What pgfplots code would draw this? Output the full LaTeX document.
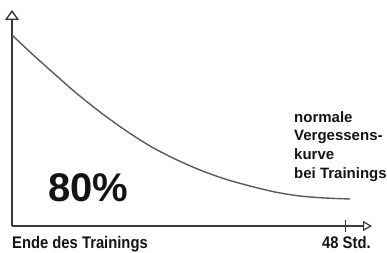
\documentclass[border=0pt]{standalone}
\usepackage{pgfplots}
\pgfplotsset{compat=1.18}
\usetikzlibrary{arrows.meta}
\usepackage{fontspec}
\setmainfont{Liberation Sans}
\newfontfamily\condfont{Liberation Sans}[FakeStretch=0.88]
\definecolor{axc}{HTML}{3A3A3A}
\definecolor{curvec}{HTML}{5A5A5A}
\begin{document}
\begin{tikzpicture}
\begin{axis}[
  x=1pt, y=1pt,
  xmin=0, xmax=360, ymin=0, ymax=216,
  axis lines=left,
  xtick=\empty, ytick=\empty,
  x axis line style={line width=1.2pt, color=axc, -{Triangle[open, length=9pt, width=10pt, line width=1.2pt]}},
  y axis line style={line width=1.2pt, color=axc, -{Triangle[open, length=10pt, width=14pt, line width=1.4pt]}},
  clip=false,
]
\addplot[smooth, line width=1.4pt, color=curvec] coordinates {
(0,191) (18,174) (38,156) (63,134) (88,114) (113,96) (138,80) (163,67)
(188,56) (213,47) (238,40) (263,34) (288,30) (313,28) (338,27)
};
\draw[line width=1pt, color=axc] (axis cs:333,-6) -- (axis cs:333,6);
\node[anchor=base west, inner sep=0pt, font=\fontsize{40}{44}\selectfont\bfseries, color=black!92] at (axis cs:36,25) {80\%};
\node[anchor=base west, inner sep=0pt, font=\condfont\fontsize{16.8}{19}\selectfont\bfseries, color=black!92] at (axis cs:0,-22.5) {Ende des Trainings};
\node[anchor=base west, inner sep=0pt, font=\condfont\fontsize{16.8}{19}\selectfont\bfseries, color=black!92] at (axis cs:310,-22.5) {48 Std.};
\node[anchor=base west, inner sep=0pt, font=\fontsize{15}{18}\selectfont\bfseries, color=black!92] at (axis cs:282,104) {normale};
\node[anchor=base west, inner sep=0pt, font=\fontsize{15}{18}\selectfont\bfseries, color=black!92] at (axis cs:282,86) {Vergessens-};
\node[anchor=base west, inner sep=0pt, font=\fontsize{15}{18}\selectfont\bfseries, color=black!92] at (axis cs:282,67) {kurve};
\node[anchor=base west, inner sep=0pt, font=\fontsize{15}{18}\selectfont\bfseries, color=black!92] at (axis cs:282,48) {bei Trainings};
\coordinate (bl) at (axis cs:-12,-26);
\coordinate (tr) at (axis cs:375,226);
\end{axis}
\pgfresetboundingbox
\path[use as bounding box] (bl) rectangle (tr);
\end{tikzpicture}
\end{document}
